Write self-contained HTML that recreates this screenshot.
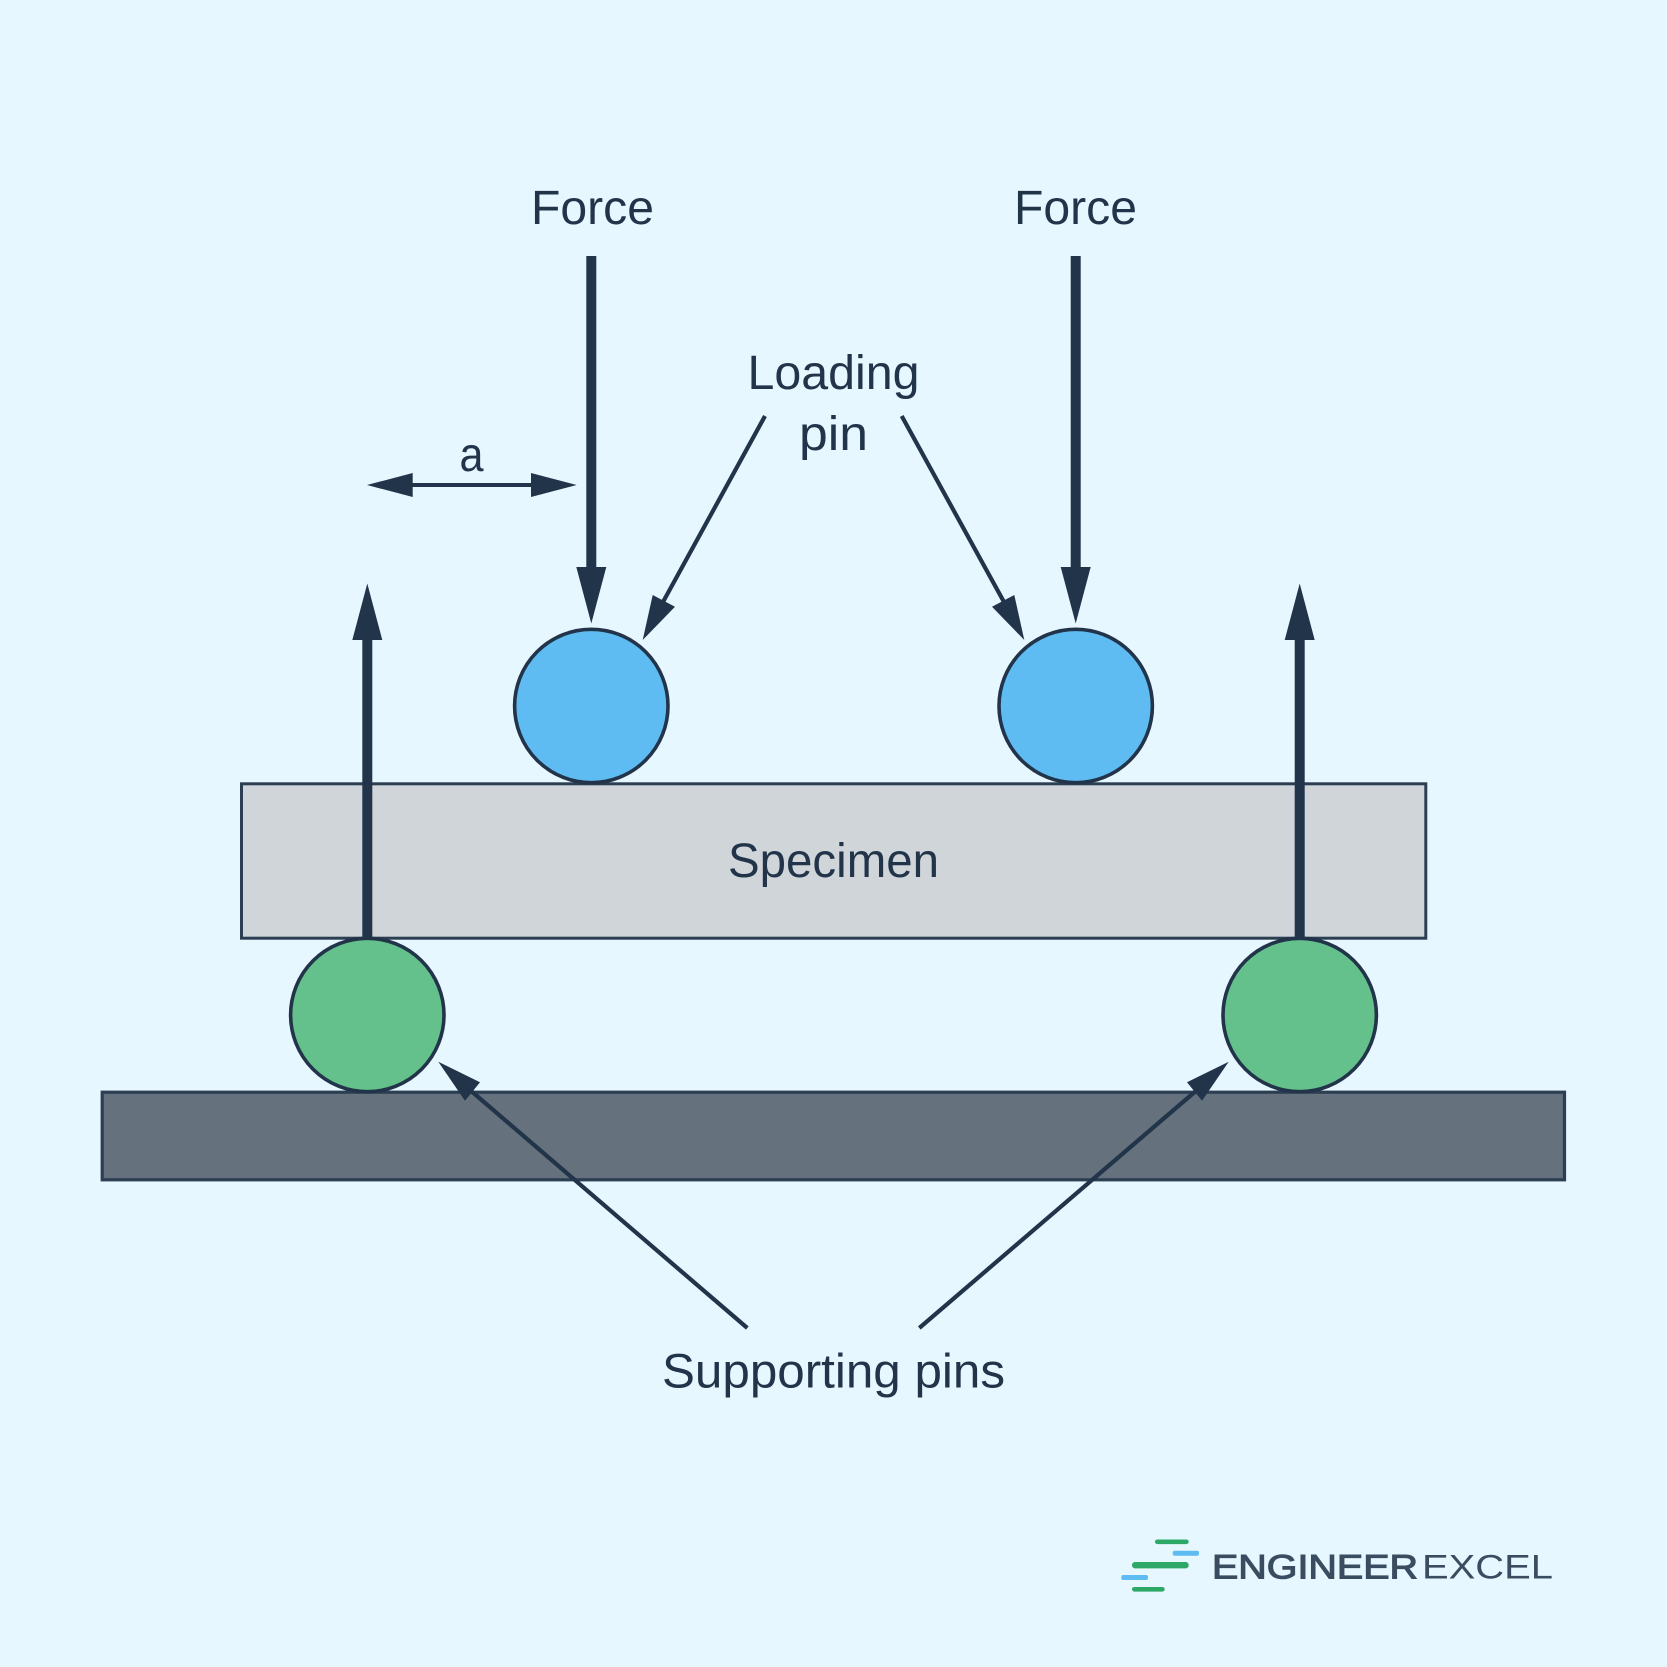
<!DOCTYPE html>
<html><head><meta charset="utf-8"><style>
html,body{margin:0;padding:0;background:#e7f7ff}
svg{display:block}
text{font-family:"Liberation Sans",sans-serif;fill:#22344a;font-size:48px}
</style></head><body>
<svg width="1667" height="1667" viewBox="0 0 1667 1667" xmlns="http://www.w3.org/2000/svg">
<rect width="1667" height="1667" fill="#e7f7ff"/>
<rect x="241.5" y="783.8" width="1184.3" height="154.4" fill="#d0d5da" stroke="#2c3e52" stroke-width="3"/>
<rect x="102.2" y="1092.2" width="1462.3" height="87.6" fill="#65717d" stroke="#2c3e52" stroke-width="3.2"/>
<circle cx="591.3" cy="706" r="76.7" fill="#5fbcf2" stroke="#22344a" stroke-width="3.6"/>
<circle cx="1075.7" cy="706" r="76.7" fill="#5fbcf2" stroke="#22344a" stroke-width="3.6"/>
<circle cx="367.3" cy="1015" r="76.7" fill="#65c18c" stroke="#22344a" stroke-width="3.6"/>
<circle cx="1299.7" cy="1015" r="76.7" fill="#65c18c" stroke="#22344a" stroke-width="3.6"/>
<g fill="#22344a" stroke="none">
<rect x="586.3" y="256" width="10" height="312"/><polygon points="576.3,567 606.3,567 591.3,623.5"/>
<rect x="1070.7" y="256" width="10" height="312"/><polygon points="1060.7,567 1090.7,567 1075.7,623.5"/>
<rect x="362.3" y="639" width="10" height="300"/><polygon points="352.3,640 382.3,640 367.3,583.5"/>
<rect x="1294.7" y="639" width="10" height="300"/><polygon points="1284.7,640 1314.7,640 1299.7,583.5"/>
<polygon points="367,485 412.7,473 412.7,497"/><polygon points="576.7,485 531,473 531,497"/>
<polygon points="642.7,640 652.7,595 675,606.7"/><polygon points="1024.3,640 1014.3,595 992,606.7"/>
<polygon points="438.3,1061.7 480,1082.3 465,1100.7"/><polygon points="1228.7,1061.7 1187,1082.3 1202,1100.7"/>
</g>
<g stroke="#22344a" fill="none">
<line x1="410" y1="485" x2="533" y2="485" stroke-width="4"/>
<line x1="765" y1="416" x2="663" y2="602" stroke-width="4.2"/>
<line x1="901.7" y1="416" x2="1004" y2="602" stroke-width="4.2"/>
<line x1="747.3" y1="1328" x2="470" y2="1090" stroke-width="4.2"/>
<line x1="919.3" y1="1328" x2="1197" y2="1090" stroke-width="4.2"/>
</g>
<text x="531" y="224" textLength="123" lengthAdjust="spacingAndGlyphs">Force</text>
<text x="1014" y="224" textLength="123" lengthAdjust="spacingAndGlyphs">Force</text>
<text x="747.5" y="389" textLength="172" lengthAdjust="spacingAndGlyphs">Loading</text>
<text x="799" y="450" textLength="69" lengthAdjust="spacingAndGlyphs">pin</text>
<text x="459.5" y="471" textLength="24" lengthAdjust="spacingAndGlyphs">a</text>
<text x="728" y="877" textLength="211" lengthAdjust="spacingAndGlyphs">Specimen</text>
<text x="662" y="1387.7" textLength="343" lengthAdjust="spacingAndGlyphs">Supporting pins</text>
<g>
<rect x="1155" y="1539.5" width="33.7" height="4.6" rx="2.3" fill="#2ea866"/>
<rect x="1172.7" y="1550.8" width="26.3" height="5" rx="2" fill="#5fbcf2"/>
<rect x="1132" y="1562" width="56.7" height="6.4" rx="3" fill="#2ea866"/>
<rect x="1121.3" y="1575" width="26.7" height="5" rx="2" fill="#5fbcf2"/>
<rect x="1132" y="1587" width="32.7" height="4.6" rx="2.3" fill="#2ea866"/>
</g>
<text x="1212" y="1578.3" textLength="206" lengthAdjust="spacingAndGlyphs" style="font-size:34px;fill:#3a4d60;stroke:#3a4d60;stroke-width:1.1">ENGINEER</text>
<text x="1422" y="1578.3" textLength="131" lengthAdjust="spacingAndGlyphs" style="font-size:34px;fill:#3a4d60">EXCEL</text>
</svg>
</body></html>
